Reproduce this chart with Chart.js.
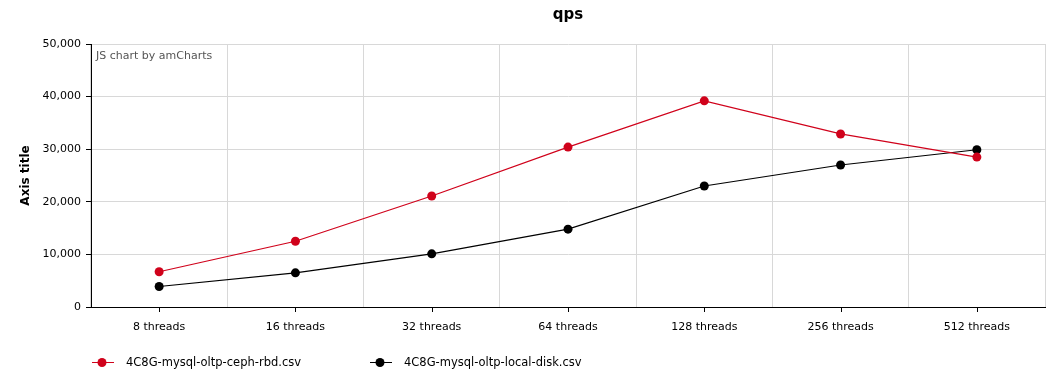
<!DOCTYPE html>
<html>
<head>
<meta charset="utf-8">
<script src="https://cdn.jsdelivr.net/npm/chart.js@4"></script>
<style>
html,body{margin:0;padding:0;background:#fff;}
#wrap{width:1063px;height:381px;position:relative;}
</style>
</head>
<body>
<div id="wrap"><canvas id="c" width="1063" height="381"></canvas></div>
<script>
const categories = ['8 threads','16 threads','32 threads','64 threads','128 threads','256 threads','512 threads'];
const cephRbd = [6700, 12500, 21100, 30400, 39200, 32900, 28500];
const localDisk = [3900, 6500, 10100, 14800, 23000, 27000, 29900];
const seriesNames = ['4C8G-mysql-oltp-ceph-rbd.csv','4C8G-mysql-oltp-local-disk.csv'];
const seriesColors = ['#d0021b','#000000'];
const chartTitle = 'qps';
const yTitle = 'Axis title';
const creditText = 'JS chart by amCharts';

const FONT = "'DejaVu Sans', Verdana, sans-serif";

const extras = {
  id: 'extras',
  afterDraw(chart) {
    const ctx = chart.ctx;
    const a = chart.chartArea;
    const xs = chart.scales.x;
    ctx.save();
    // x tick marks at category centers
    ctx.strokeStyle = '#000';
    ctx.lineWidth = 1;
    categories.forEach((c, i) => {
      const px = Math.round(xs.getPixelForValue(i)) + 0.5;
      ctx.beginPath();
      ctx.moveTo(px, a.bottom);
      ctx.lineTo(px, a.bottom + 5);
      ctx.stroke();
    });
    // title
    ctx.fillStyle = '#000';
    ctx.font = 'bold 15px ' + FONT;
    ctx.textAlign = 'center';
    ctx.textBaseline = 'middle';
    ctx.fillText(chartTitle, (a.left + a.right) / 2, 15);
    // credit
    ctx.font = '11px ' + FONT;
    ctx.fillStyle = '#555';
    ctx.textAlign = 'left';
    ctx.fillText(creditText, a.left + 5, a.top + 12);
    // legend
    const legendX = [92, 370];
    const ly = 362;
    seriesNames.forEach((n, i) => {
      const x0 = legendX[i];
      ctx.strokeStyle = seriesColors[i];
      ctx.lineWidth = 1;
      ctx.beginPath();
      ctx.moveTo(x0, ly + 0.5);
      ctx.lineTo(x0 + 22, ly + 0.5);
      ctx.stroke();
      ctx.fillStyle = seriesColors[i];
      ctx.beginPath();
      ctx.arc(x0 + 10, ly + 0.5, 4.5, 0, Math.PI * 2);
      ctx.fill();
      ctx.fillStyle = '#000';
      ctx.font = '11.5px ' + FONT;
      ctx.textAlign = 'left';
      ctx.textBaseline = 'middle';
      ctx.fillText(n, x0 + 34, ly + 1);
    });
    ctx.restore();
  }
};

new Chart(document.getElementById('c'), {
  type: 'line',
  data: {
    labels: categories,
    datasets: [
      { label: seriesNames[0], data: cephRbd, borderColor: seriesColors[0], backgroundColor: seriesColors[0],
        borderWidth: 1.2, pointRadius: 4.5, pointHoverRadius: 4.5, pointBorderWidth: 0, tension: 0 },
      { label: seriesNames[1], data: localDisk, borderColor: seriesColors[1], backgroundColor: seriesColors[1],
        borderWidth: 1.2, pointRadius: 4.5, pointHoverRadius: 4.5, pointBorderWidth: 0, tension: 0 }
    ]
  },
  options: {
    responsive: false,
    animation: false,
    devicePixelRatio: 1,
    layout: { padding: { top: 44, right: 18, bottom: 0, left: 0 } },
    plugins: { legend: { display: false }, title: { display: false }, tooltip: { enabled: false } },
    scales: {
      x: {
        offset: true,
        afterFit(s) { s.height = 74; },
        grid: { offset: true, color: '#d8d8d8', drawTicks: false },
        border: { color: '#000', width: 1 },
        ticks: { color: '#000', font: { family: FONT, size: 11 }, padding: 14, maxRotation: 0, autoSkip: false }
      },
      y: {
        min: 0, max: 50000,
        afterFit(s) { s.width = 91; },
        grid: { color: '#d8d8d8', tickColor: '#000', tickLength: 5, drawTicks: true },
        border: { color: '#000', width: 1 },
        ticks: { stepSize: 10000, color: '#000', font: { family: FONT, size: 11 }, padding: 5,
          callback: v => v.toLocaleString('en-US') },
        title: { display: true, text: yTitle, color: '#000', font: { family: FONT, size: 12, weight: 'bold' }, padding: { top: 19, bottom: 0 } }
      }
    }
  },
  plugins: [extras]
});
</script>
</body>
</html>
